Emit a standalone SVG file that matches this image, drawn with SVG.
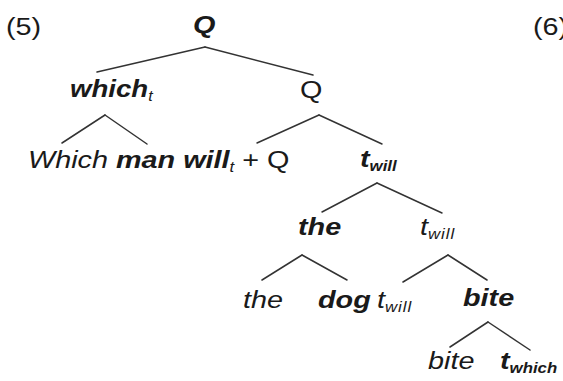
<svg xmlns="http://www.w3.org/2000/svg" width="563" height="381" viewBox="0 0 563 381">
<style>
text{font-family:"Liberation Sans",Arial,sans-serif;font-size:24px;fill:#1a1a1a}
.b{font-weight:bold}
.i{font-style:italic}
.s{font-size:14px}
.sr{font-size:14px;letter-spacing:0.8px}
#edges line{stroke:#333;stroke-width:1.5;stroke-linecap:round}
</style>
<rect width="563" height="381" fill="#fff"/>
<g id="label5" transform="translate(6,35) scale(1.2,1)"><text>(5)</text></g>
<g id="label6" transform="translate(533,35) scale(1.2,1)"><text>(6)</text></g>
<g id="n_Q" transform="translate(193,33) scale(1.2,1)"><text class="b i">Q</text></g>
<g id="n_which" transform="translate(70,97) scale(1.15,1)"><text class="b i">which<tspan class="s" font-weight="normal" dy="4">t</tspan></text></g>
<g id="n_Q2" transform="translate(300,98) scale(1.2,1)"><text>Q</text></g>
<g id="n_whichman" transform="translate(28,168) scale(1.2,1)"><text><tspan class="i">Which </tspan><tspan class="b i">man will</tspan><tspan class="s i" dy="4">t</tspan><tspan dy="-4"> + Q</tspan></text></g>
<g id="n_twill1" transform="translate(360,167) scale(1.2,1)"><text class="b i">t<tspan class="s" dy="4">will</tspan></text></g>
<g id="n_the1" transform="translate(298,235) scale(1.2,1)"><text class="b i">the</text></g>
<g id="n_twill2" transform="translate(420,235) scale(1.2,1)"><text class="i">t<tspan class="sr" dy="4">will</tspan></text></g>
<g id="n_the2" transform="translate(243,308) scale(1.2,1)"><text class="i">the</text></g>
<g id="n_dog" transform="translate(318,308) scale(1.2,1)"><text class="b i">dog</text></g>
<g id="n_twill3" transform="translate(377,308) scale(1.2,1)"><text class="i">t<tspan class="sr" dy="4">will</tspan></text></g>
<g id="n_bite1" transform="translate(463,306) scale(1.2,1)"><text class="b i">bite</text></g>
<g id="n_bite2" transform="translate(428,369) scale(1.2,1)"><text class="i">bite</text></g>
<g id="n_twhich" transform="translate(500,369) scale(1.2,1)"><text class="b i">t<tspan class="s" font-size="15px" dy="4">which</tspan></text></g>
<g id="edges">
<line x1="205" y1="47" x2="97" y2="72"/>
<line x1="205" y1="47" x2="313" y2="75"/>
<line x1="105" y1="115" x2="62" y2="143"/>
<line x1="105" y1="115" x2="147" y2="144"/>
<line x1="319" y1="115" x2="257" y2="143"/>
<line x1="319" y1="115" x2="382" y2="144"/>
<line x1="377" y1="183" x2="322" y2="212"/>
<line x1="377" y1="183" x2="442" y2="213"/>
<line x1="302" y1="255" x2="262" y2="280"/>
<line x1="302" y1="255" x2="347" y2="280"/>
<line x1="448" y1="255" x2="403" y2="282"/>
<line x1="448" y1="255" x2="487" y2="280"/>
<line x1="488" y1="322" x2="450" y2="347"/>
<line x1="488" y1="322" x2="530" y2="350"/>
</g>
</svg>
